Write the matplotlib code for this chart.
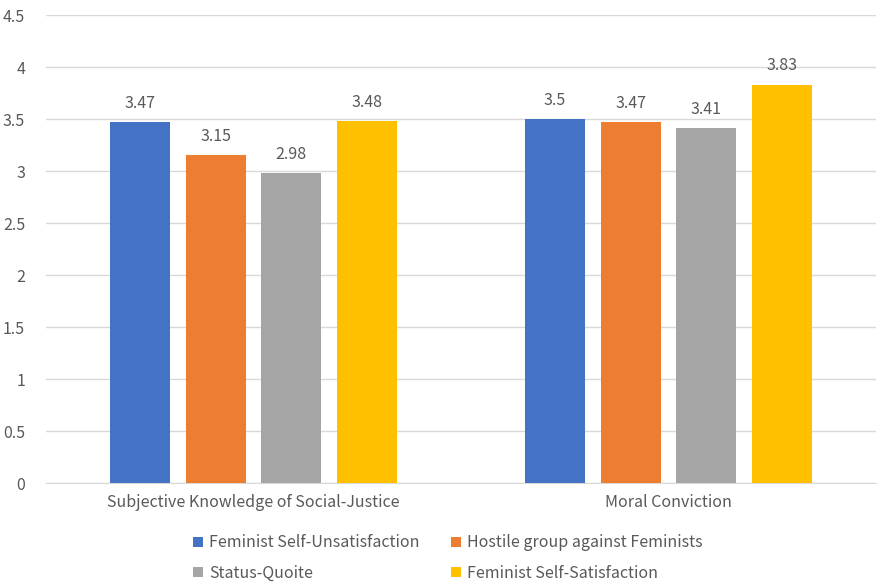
import matplotlib
matplotlib.use("Agg")
import matplotlib.pyplot as plt
import numpy as np

plt.rcParams['font.family'] = ['Noto Sans CJK KR', 'DejaVu Sans']

categories = ["Subjective Knowledge of Social-Justice", "Moral Conviction"]
series_names = ["Feminist Self-Unsatisfaction", "Hostile group against Feminists",
                "Status-Quoite", "Feminist Self-Satisfaction"]
values = [
    [3.47, 3.50],
    [3.15, 3.47],
    [2.98, 3.41],
    [3.48, 3.83],
]
colors = ["#4472C4", "#ED7D31", "#A5A5A5", "#FFC000"]
yticks = [0, 0.5, 1, 1.5, 2, 2.5, 3, 3.5, 4, 4.5]
ytick_labels = ["0", "0.5", "1", "1.5", "2", "2.5", "3", "3.5", "4", "4.5"]

text_color = "#595959"
fs = 11.5

fig = plt.figure(figsize=(8.77, 5.86), dpi=100)
ax = fig.add_axes([46 / 877, 103 / 586, 830 / 877, 468 / 586])

x = np.arange(len(categories))
width = 0.1446
step = 0.1824
offsets = (np.arange(len(series_names)) - 1.5) * step

handles = []
for i, name in enumerate(series_names):
    bars = ax.bar(x + offsets[i], values[i], width, color=colors[i], label=name, zorder=3)
    handles.append(bars)
    for b, v in zip(bars, values[i]):
        ax.text(b.get_x() + b.get_width() / 2, v + 0.1, f"{v:g}", ha="center", va="bottom",
                fontsize=fs, color=text_color)

ax.set_xlim(-0.5, 1.5)
ax.set_ylim(0, 4.5)
ax.set_yticks(yticks)
ax.set_yticklabels(ytick_labels)
ax.set_xticks(x)
ax.set_xticklabels(categories)
ax.tick_params(axis="both", length=0, colors=text_color, labelsize=fs)
ax.tick_params(axis="y", pad=15)
ax.tick_params(axis="x", pad=8)
ax.grid(axis="y", color="#D9D9D9", linewidth=1, zorder=0)
for side in ["top", "right", "left"]:
    ax.spines[side].set_visible(False)
ax.spines["bottom"].set_color("#D9D9D9")

# legend fills column-wise, so reorder to get rows: blue/orange, gray/yellow
order = [0, 2, 1, 3]
fig.legend([handles[i] for i in order], [series_names[i] for i in order],
           loc="center", bbox_to_anchor=(448 / 877, 1 - 558 / 586), ncol=2,
           frameon=False, fontsize=fs, labelcolor=text_color,
           handlelength=0.6, handleheight=0.6, handletextpad=0.4,
           columnspacing=2.0, labelspacing=0.85)

fig.savefig("out.png", dpi=100)
